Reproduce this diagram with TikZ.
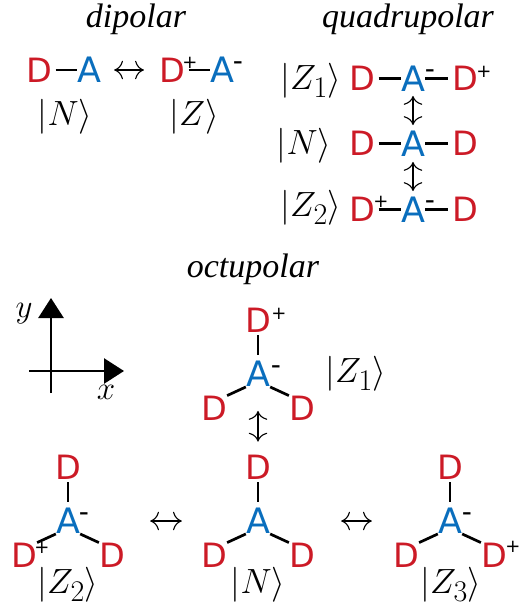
\documentclass[tikz,border=0pt]{standalone}
\usepackage{fontspec}
\usepackage{fix-cm}
\usepackage{amsmath}
\usetikzlibrary{arrows.meta}
\newfontfamily\atomfont{DejaVu Sans}
\newfontfamily\titlefont{Liberation Serif}
\definecolor{donor}{HTML}{CC1A26}
\definecolor{acceptor}{HTML}{0A6EBD}
\DeclareMathSizes{35}{35}{30}{20}
\tikzset{
  atom/.style={inner sep=0pt,font=\atomfont\fontsize{33.5}{33.5}\selectfont},
  donor/.style={atom,text=donor},
  acceptor/.style={atom,text=acceptor,font=\atomfont\fontsize{35}{35}\selectfont},
  chg/.style={inner sep=0pt,font=\atomfont\fontsize{18}{18}\selectfont},
  neg/.style={inner sep=0pt,yshift=-3pt,font=\atomfont\fontsize{28}{28}\selectfont},
  ket/.style={inner sep=0pt,font=\fontsize{35}{35}\selectfont},
  heading/.style={inner sep=0pt,font=\titlefont\itshape\fontsize{34}{34}\selectfont},
  bond/.style={line width=2.7pt},
  hbond/.style={bond,shorten <=3.5pt,yshift=-2.5pt},
  vbond/.style={bond,shorten <=3pt,shorten >=6pt},
  res/.style={line width=1.1pt,{Computer Modern Rightarrow[scale=2.2]}-{Computer Modern Rightarrow[scale=2.2]}},
  axis/.style={line width=2.7pt,-{Triangle[length=20pt,width=25pt]}}
}
\begin{document}
\begin{tikzpicture}[x=1pt,y=-1pt]
\useasboundingbox (0,0) rectangle (526,610);
\node[heading] (tdip) at (136,19) {dipolar};
\node[heading] (tquad) at (408,19) {quadrupolar};
\node[heading] (toct) at (253,269) {octupolar};
% dipolar
\node[donor] (d1) at (39,70) {D};
\node[acceptor] (a1) at (89,70) {A};
\node[donor] (d2) at (172,70) {D};
\node[acceptor] (a2) at (222,70) {A};
\draw[hbond] (d1.east) -- (a1.west);
\draw[hbond] (d2.east) -- (a2.west);
\draw[res,shorten <=13pt,shorten >=15pt,yshift=-1.5pt] (a1.east) -- (d2.west);
\node[chg] at (190,63) {+};
\node[neg] at (238,63) {-};
\node[ket] (kN) at (65,117) {$|N\rangle$};
\node[ket] (kZ) at (194,117) {$|Z\rangle$};
% quadrupolar
\foreach \n/\y in {u/78.5,c/143.5,w/209.5} {
  \node[donor] (l\n) at (362,\y) {D};
  \node[acceptor] (m\n) at (413,\y) {A};
  \node[donor] (r\n) at (465,\y) {D};
  \draw[hbond] (l\n.east) -- (m\n.west);
  \draw[hbond,shorten <=0pt,shorten >=3.5pt] (m\n.east) -- (r\n.west);
}
\draw[res,shorten <=4.5pt,shorten >=5.5pt] (mu.south) -- (mc.north);
\draw[res,shorten <=5.5pt,shorten >=5.5pt] (mc.south) -- (mw.north);
\node[neg] at (430,71) {-};
\node[chg] at (484,72) {+};
\node[chg] at (381,202) {+};
\node[neg] at (430,202) {-};
\node[ket] (kZa) at (311,81) {$|Z_1\rangle$};
\node[ket] (kNb) at (304,146) {$|N\rangle$};
\node[ket] (kZb) at (311,208) {$|Z_2\rangle$};
% axes
\coordinate (xs) at (29,371);
\coordinate (xe) at (124,371);
\coordinate (ys) at (51,393);
\coordinate (ye) at (51,298);
\draw[axis] (xs) -- (xe);
\draw[axis] (ys) -- (ye);
\node[ket,font=\fontsize{33}{33}\selectfont] (ly) at (24,314) {$y$};
\node[ket,font=\fontsize{33}{33}\selectfont] (lx) at (106,392) {$x$};
% octupolar
\foreach \n/\x/\y in {t/258/374,p/68/521,q/258/521,s/450/521} {
  \node[acceptor] (a\n) at (\x,\y) {A};
  \node[donor] (du\n) at (\x,\y-54) {D};
  \node[donor] (dl\n) at (\x-44,\y+34) {D};
  \node[donor] (dr\n) at (\x+44,\y+34) {D};
  \draw[vbond] (du\n.south) -- (a\n.north);
  \draw[bond] (a\n.south west) -- (dl\n.north east);
  \draw[bond] (a\n.south east) -- (dr\n.north west);
}
\draw[res,shorten <=24pt,shorten >=13pt] (at.south) -- (duq.north);
\draw[res,shorten <=70pt,shorten >=64pt,yshift=5pt] (ap.east) -- (aq.west);
\draw[res,shorten <=71pt,shorten >=66pt,yshift=5pt] (aq.east) -- (as.west);
\node[neg] at (276,367) {-};
\node[chg] at (279,314) {+};
\node[neg] at (84,514) {-};
\node[chg] at (42,548) {+};
\node[neg] at (467,514) {-};
\node[chg] at (513,547) {+};
\node[ket] (kZc) at (356,374) {$|Z_1\rangle$};
\node[ket] (kZd) at (68,585) {$|Z_2\rangle$};
\node[ket] (kNc) at (258,585) {$|N\rangle$};
\node[ket] (kZe) at (451,585) {$|Z_3\rangle$};
\end{tikzpicture}
\end{document}
